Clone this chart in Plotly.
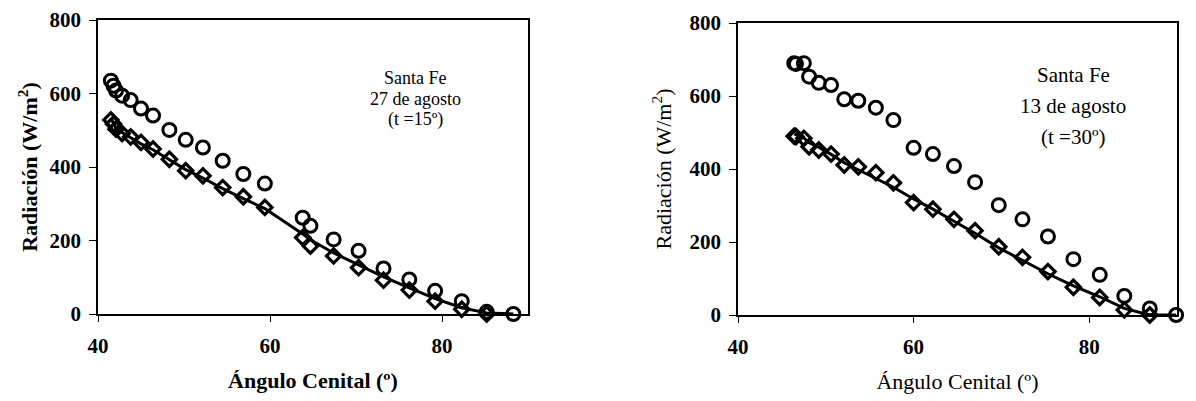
import plotly.graph_objects as go

# ---------------- data ----------------
# Left panel: Santa Fe, 27 de agosto (t = 15°)
left_angle = [41.5, 41.8, 42.1, 42.8, 43.8, 45.0, 46.4, 48.3, 50.2, 52.2, 54.5, 56.9,
              59.4, 63.8, 64.7, 67.4, 70.3, 73.2, 76.2, 79.2, 82.3, 85.2, 88.3]
left_circles = [635, 621, 608, 594, 582, 559, 540, 501, 474, 453, 417, 381,
                355, 262, 240, 203, 172, 124, 94, 63, 35, 6, 0]
left_diamonds = [528, 517, 503, 491, 482, 467, 449, 421, 390, 376, 344, 319,
                 290, 208, 185, 158, 126, 92, 65, 35, 13, 0, None]
left_model = [532, 518, 505, 494, 480, 463, 447, 420, 393, 370, 341, 314,
              287, 218, 202, 166, 133, 101, 71, 42, 17, 3, 0]

# Right panel: Santa Fe, 13 de agosto (t = 30°)
right_angle = [46.4, 46.6, 47.5, 48.1, 49.2, 50.6, 52.1, 53.7, 55.7, 57.7, 60.0,
               62.2, 64.6, 67.0, 69.7, 72.4, 75.3, 78.2, 81.2, 84.0, 86.9, 89.9]
right_circles = [690, 688, 690, 653, 636, 630, 591, 587, 568, 534, 458,
                 441, 408, 364, 301, 262, 215, 153, 110, 52, 18, 0]
right_diamonds = [490, 489, 484, 461, 452, 441, 411, 406, 390, 362, 308,
                  290, 262, 231, 187, 158, 119, 76, 48, 14, 0, None]
right_model = [496, 494, 485, 472, 460, 440, 417, 398, 375, 350, 318,
               290, 257, 224, 184, 150, 113, 80, 50, 18, 0, 0]

left_note = ["Santa Fe", "27 de agosto", "(t =15º)"]
right_note = ["Santa Fe", "13 de agosto", "(t =30º)"]

x_title = "Ángulo Cenital (º)"
y_title = "Radiación (W/m<sup>2</sup>)"
x_ticks = [40, 60, 80]
y_ticks = [0, 200, 400, 600, 800]

FONT = "Liberation Serif"

fig = go.Figure()


def add_panel(xa, ya, ang, circ, diam, model):
    fig.add_trace(go.Scatter(x=ang, y=circ, mode="markers", xaxis=xa, yaxis=ya,
                             marker=dict(symbol="circle-open", size=13, color="black",
                                         line=dict(width=3, color="black")),
                             cliponaxis=False, showlegend=False))
    fig.add_trace(go.Scatter(x=ang, y=diam, mode="markers", xaxis=xa, yaxis=ya,
                             marker=dict(symbol="diamond-open", size=11, color="black",
                                         line=dict(width=3.2, color="black")),
                             cliponaxis=False, showlegend=False))
    fig.add_trace(go.Scatter(x=ang, y=model, mode="lines", xaxis=xa, yaxis=ya,
                             line=dict(color="black", width=3),
                             connectgaps=True, cliponaxis=False, showlegend=False))


add_panel("x", "y", left_angle, left_circles, left_diamonds, left_model)
add_panel("x2", "y2", right_angle, right_circles, right_diamonds, right_model)

W, H = 1196, 401
OFF = 8  # page body margin offset


def px(x):
    return (x - OFF) / W


def py(y):
    return 1 - (y - OFF) / H


def common_x(dom, anchor, bold):
    return dict(domain=dom, anchor=anchor, range=[40, 90], tickvals=x_ticks,
                automargin=False,
                showline=True, linecolor="black", linewidth=1.5, mirror=True,
                ticks="outside", ticklen=6, tickcolor="black",
                showgrid=False, zeroline=False, ticklabelstandoff=6,
                tickfont=dict(family=FONT, size=21, color="black", weight="bold"),
                title=dict(text=x_title, standoff=16,
                           font=dict(family=FONT, size=22, color="black",
                                     weight="bold" if bold else "normal")))


def common_y(dom, anchor, bold, standoff):
    return dict(domain=dom, anchor=anchor, range=[0, 800], tickvals=y_ticks,
                automargin=False,
                showline=True, linecolor="black", linewidth=1.5, mirror=True,
                ticks="outside", ticklen=7, tickcolor="black",
                showgrid=False, zeroline=False, ticklabelstandoff=4,
                tickfont=dict(family=FONT, size=21, color="black", weight="bold"),
                title=dict(text=y_title, standoff=standoff,
                           font=dict(family=FONT, size=22, color="black",
                                     weight="bold" if bold else "normal")))


annotations = []
for i, t in enumerate(left_note):
    annotations.append(dict(text=t, xref="paper", yref="paper",
                            x=px(415), y=py(78 + 21 * i), showarrow=False,
                            xanchor="center", yanchor="middle",
                            font=dict(family=FONT, size=18, color="black")))
for i, t in enumerate(right_note):
    annotations.append(dict(text=t, xref="paper", yref="paper",
                            x=px(1073), y=py(75 + 31 * i), showarrow=False,
                            xanchor="center", yanchor="middle",
                            font=dict(family=FONT, size=21, color="black")))

fig.update_layout(
    width=W, height=H,
    margin=dict(l=0, r=0, t=0, b=0, autoexpand=False),
    paper_bgcolor="white", plot_bgcolor="white",
    xaxis=common_x([px(98), px(528)], "y", True),
    yaxis=common_y([py(314), py(20)], "x", True, 6),
    xaxis2=common_x([px(738), px(1177)], "y2", False),
    yaxis2=common_y([py(315), py(23)], "x2", False, 12),
    annotations=annotations,
)

fig.write_html("out.html")
